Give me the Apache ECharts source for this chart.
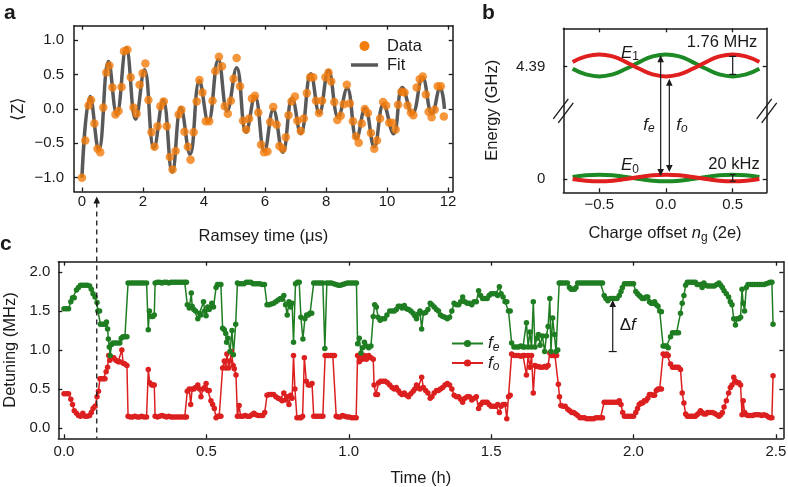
<!DOCTYPE html>
<html><head><meta charset="utf-8">
<script src="https://cdn.jsdelivr.net/npm/echarts@6/dist/echarts.min.js"></script>
<style>html,body{margin:0;padding:0;background:#fff}#c{width:788px;height:487px}</style>
</head><body><div id="c"></div>
<script>
// ---------- Panel a: Ramsey data (time in us, <Z>) ----------
const ramseyData = [
[0.00,-1.00],[0.11,-0.46],[0.22,0.05],[0.30,0.13],[0.41,-0.21],[0.51,-0.58],[0.60,-0.63],[0.70,0.02],[0.80,0.53],[0.90,0.63],
[1.00,0.31],[1.10,-0.08],[1.20,-0.03],[1.30,0.32],[1.38,0.84],[1.49,0.86],[1.60,0.46],[1.69,0.02],[1.79,-0.07],[1.89,0.35],
[1.99,0.52],[2.08,0.66],[2.18,0.13],[2.28,-0.34],[2.38,-0.55],[2.48,-0.25],[2.57,0.04],[2.68,0.11],[2.78,-0.25],[2.88,-0.70],
[2.97,-0.88],[3.07,-0.61],[3.17,-0.08],[3.26,-0.01],[3.36,-0.33],[3.47,-0.55],[3.56,-0.74],[3.66,-0.34],[3.76,0.11],[3.85,0.42],
[3.95,0.24],[4.06,-0.18],[4.17,-0.18],[4.28,0.12],[4.37,0.55],[4.49,0.76],[4.59,0.62],[4.68,0.04],[4.78,-0.07],[4.88,0.12],
[4.97,0.44],[5.07,0.74],[5.18,0.33],[5.28,-0.17],[5.38,-0.30],[5.48,-0.14],[5.57,0.15],[5.67,0.19],[5.78,-0.05],[5.87,-0.52],
[5.97,-0.63],[6.08,-0.62],[6.17,-0.19],[6.27,0.03],[6.38,-0.23],[6.47,-0.54],[6.58,-0.58],[6.68,-0.41],[6.77,-0.09],[6.87,0.11],
[6.98,0.18],[7.06,-0.17],[7.17,-0.32],[7.27,-0.14],[7.37,0.23],[7.48,0.46],[7.58,0.46],[7.67,0.12],[7.77,-0.06],[7.87,0.12],
[7.98,0.46],[8.08,0.53],[8.17,0.40],[8.27,0.10],[8.37,-0.16],[8.48,-0.10],[8.58,0.07],[8.68,0.35],[8.78,0.08],[8.88,-0.18],
[8.98,-0.40],[9.07,-0.49],[9.17,-0.21],[9.27,0.00],[9.37,-0.06],[9.47,-0.35],[9.58,-0.58],[9.67,-0.46],[9.77,-0.14],[9.87,0.10],
[9.97,0.05],[10.07,-0.20],[10.17,-0.20],[10.28,-0.30],[10.36,0.06],[10.47,0.25],[10.57,0.24],[10.67,0.05],[10.78,-0.05],[10.86,-0.09],
[10.97,0.31],[11.07,0.43],[11.17,0.47],[11.27,0.21],[11.36,-0.04],[11.46,-0.12],[11.56,-0.01],[11.66,0.33],[11.76,0.33],[11.86,-0.11]
];
// Fit curve, read at its turning points
const fitPoints = [
[0,-1.0],[0.27,0.18],[0.55,-0.60],[0.87,0.69],[1.14,-0.08],[1.45,0.89],[1.76,-0.15],[2.05,0.57],[2.36,-0.57],[2.66,0.13],
[2.96,-0.92],[3.24,0.02],[3.54,-0.66],[3.85,0.41],[4.14,-0.19],[4.47,0.72],[4.76,-0.03],[5.07,0.60],[5.38,-0.34],[5.67,0.18],
[5.98,-0.61],[6.27,-0.01],[6.58,-0.63],[6.89,0.16],[7.17,-0.36],[7.50,0.51],[7.78,-0.06],[8.08,0.56],[8.40,-0.12],[8.69,0.30],
[9.00,-0.43],[9.28,0.01],[9.58,-0.55],[9.88,0.07],[10.21,-0.36],[10.50,0.31],[10.83,-0.07],[11.16,0.46],[11.47,-0.07],[11.74,0.31],[11.88,0.0]
];
const aXTicks = [0,2,4,6,8,10,12];
const aXTickLabels = ['0','2','4','6','8','10','12'];
const aYTicks = [-1,-0.5,0,0.5,1];
const aYTickLabels = ['\u22121.0','\u22120.5','0.0','0.5','1.0'];
const aLegendNames = ['Data','Fit'];

// ---------- Panel b: energy bands vs charge offset ----------
const ngValues   = [-0.7,-0.6,-0.5,-0.4,-0.3,-0.2,-0.1,0.0,0.1,0.2,0.3,0.4,0.5,0.6,0.7];
const e1Odd      = [4.57,4.79,4.87,4.79,4.57,4.31,4.09,4.01,4.09,4.31,4.57,4.79,4.87,4.79,4.57];
const e1Even     = [4.31,4.09,4.01,4.09,4.31,4.57,4.79,4.87,4.79,4.57,4.31,4.09,4.01,4.09,4.31];
const e0Odd      = [0.00,-0.07,-0.09,-0.07,0.00,0.08,0.15,0.17,0.15,0.08,0.00,-0.07,-0.09,-0.07,0.00];
const e0Even     = [0.08,0.15,0.17,0.15,0.08,0.00,-0.07,-0.09,-0.07,0.00,0.08,0.15,0.17,0.15,0.08];
const bXTicks = [-0.5,0,0.5];
const bXTickLabels = ['\u22120.5','0.0','0.5'];
const bYTicks = [0,4.39];
const bYTickLabels = ['0','4.39'];

// ---------- Panel c: detuning vs time (h, MHz) ----------
const feData = [
[0.000,1.53],[0.008,1.53],[0.016,1.53],[0.024,1.62],[0.030,1.67],[0.036,1.67],[0.044,1.77],[0.051,1.80],[0.058,1.83],[0.066,1.83],
[0.074,1.83],[0.082,1.83],[0.090,1.82],[0.096,1.78],[0.102,1.72],[0.109,1.68],[0.116,1.61],[0.119,1.50],[0.125,1.50],[0.128,1.33],
[0.134,1.33],[0.140,1.33],[0.146,1.33],[0.149,1.36],[0.153,1.27],[0.156,1.14],[0.159,1.04],[0.162,0.93],[0.167,1.07],[0.172,1.09],
[0.180,1.09],[0.188,1.09],[0.196,1.09],[0.201,1.15],[0.207,1.17],[0.214,1.17],[0.221,1.17],[0.225,1.86],[0.233,1.86],[0.241,1.86],
[0.249,1.86],[0.257,1.86],[0.265,1.86],[0.273,1.86],[0.281,1.86],[0.290,1.86],[0.296,1.26],[0.300,1.50],[0.306,1.43],[0.312,1.43],
[0.317,1.45],[0.320,1.86],[0.328,1.87],[0.336,1.87],[0.344,1.86],[0.352,1.87],[0.360,1.87],[0.368,1.86],[0.376,1.87],[0.384,1.87],
[0.392,1.87],[0.400,1.87],[0.408,1.87],[0.416,1.87],[0.424,1.87],[0.430,1.87],[0.433,1.58],[0.440,1.54],[0.447,1.73],[0.450,1.56],
[0.456,1.52],[0.462,1.50],[0.470,1.40],[0.476,1.47],[0.481,1.45],[0.490,1.62],[0.494,1.50],[0.499,1.44],[0.505,1.55],[0.510,1.52],
[0.519,1.60],[0.525,1.55],[0.534,1.80],[0.539,1.84],[0.545,1.84],[0.551,1.84],[0.557,1.28],[0.563,1.26],[0.568,1.21],[0.571,1.10],
[0.576,1.15],[0.583,0.98],[0.590,1.25],[0.595,0.94],[0.603,1.33],[0.609,1.86],[0.616,1.85],[0.624,1.85],[0.632,1.85],[0.640,1.87],
[0.648,1.87],[0.656,1.87],[0.664,1.85],[0.672,1.85],[0.680,1.85],[0.688,1.85],[0.696,1.84],[0.704,1.84],[0.713,1.58],[0.720,1.58],
[0.728,1.59],[0.736,1.60],[0.744,1.62],[0.752,1.64],[0.760,1.66],[0.766,1.65],[0.772,1.70],[0.778,1.58],[0.784,1.45],[0.790,1.62],
[0.796,1.55],[0.801,1.60],[0.806,1.10],[0.813,1.85],[0.820,1.87],[0.826,1.87],[0.832,1.42],[0.839,1.14],[0.846,1.40],[0.852,1.45],
[0.858,1.45],[0.864,1.47],[0.870,1.47],[0.877,1.86],[0.885,1.86],[0.893,1.86],[0.901,1.86],[0.909,1.86],[0.916,1.02],[0.923,1.86],
[0.931,1.86],[0.939,1.86],[0.947,1.85],[0.955,1.84],[0.963,1.83],[0.971,1.83],[0.979,1.84],[0.987,1.85],[0.995,1.86],[1.003,1.86],
[1.011,1.86],[1.019,1.86],[1.027,1.86],[1.031,1.08],[1.037,1.15],[1.043,0.96],[1.049,1.03],[1.055,1.10],[1.062,1.05],[1.070,1.03],
[1.078,1.05],[1.086,1.43],[1.091,1.58],[1.097,1.55],[1.103,1.42],[1.110,1.38],[1.118,1.40],[1.126,1.40],[1.134,1.45],[1.144,1.50],
[1.152,1.50],[1.160,1.50],[1.167,1.52],[1.174,1.56],[1.180,1.56],[1.187,1.54],[1.195,1.57],[1.203,1.53],[1.210,1.52],[1.218,1.50],
[1.226,1.47],[1.232,1.44],[1.238,1.40],[1.244,1.46],[1.250,1.50],[1.256,1.27],[1.262,1.47],[1.270,1.48],[1.278,1.52],[1.286,1.60],
[1.292,1.58],[1.300,1.55],[1.308,1.52],[1.315,1.50],[1.322,1.45],[1.330,1.43],[1.338,1.42],[1.346,1.40],[1.354,1.42],[1.362,1.50],
[1.370,1.60],[1.378,1.58],[1.386,1.58],[1.393,1.62],[1.400,1.68],[1.408,1.62],[1.416,1.60],[1.424,1.60],[1.432,1.58],[1.440,1.62],
[1.448,1.62],[1.456,1.76],[1.463,1.70],[1.470,1.66],[1.478,1.66],[1.486,1.66],[1.493,1.70],[1.500,1.72],[1.508,1.72],[1.516,1.72],
[1.523,1.70],[1.529,1.81],[1.535,1.72],[1.542,1.68],[1.549,1.62],[1.555,1.62],[1.561,1.50],[1.567,1.50],[1.572,1.09],[1.580,1.04],
[1.588,1.04],[1.596,1.04],[1.604,1.05],[1.612,1.04],[1.618,1.04],[1.624,1.35],[1.630,1.04],[1.636,1.23],[1.642,1.04],[1.648,1.62],
[1.654,1.04],[1.660,1.15],[1.666,1.20],[1.672,1.06],[1.680,1.18],[1.688,0.98],[1.694,1.18],[1.700,1.30],[1.706,1.66],[1.710,0.98],
[1.716,1.41],[1.722,1.20],[1.728,0.98],[1.734,1.00],[1.739,1.86],[1.745,1.86],[1.752,1.86],[1.760,1.86],[1.768,1.86],[1.775,1.80],
[1.781,1.78],[1.787,1.78],[1.793,1.78],[1.798,1.80],[1.804,1.86],[1.812,1.86],[1.820,1.86],[1.828,1.86],[1.836,1.86],[1.844,1.86],
[1.852,1.86],[1.860,1.86],[1.868,1.86],[1.876,1.86],[1.884,1.86],[1.891,1.86],[1.897,1.70],[1.903,1.66],[1.910,1.63],[1.918,1.66],
[1.926,1.66],[1.934,1.66],[1.942,1.66],[1.950,1.70],[1.956,1.75],[1.961,1.80],[1.968,1.85],[1.976,1.85],[1.984,1.85],[1.992,1.85],
[2.000,1.85],[2.008,1.75],[2.014,1.72],[2.020,1.70],[2.026,1.68],[2.031,1.66],[2.038,1.66],[2.044,1.68],[2.050,1.68],[2.056,1.62],
[2.062,1.60],[2.068,1.60],[2.074,1.62],[2.080,1.58],[2.086,1.56],[2.092,1.50],[2.098,1.49],[2.104,1.05],[2.110,1.05],[2.116,1.05],
[2.122,1.03],[2.130,1.17],[2.137,1.22],[2.144,1.22],[2.151,1.22],[2.158,1.22],[2.165,1.47],[2.171,1.60],[2.177,1.70],[2.183,1.83],
[2.189,1.87],[2.196,1.87],[2.203,1.87],[2.210,1.87],[2.217,1.87],[2.223,1.84],[2.229,1.84],[2.235,1.84],[2.241,1.80],[2.247,1.86],
[2.254,1.83],[2.260,1.82],[2.268,1.82],[2.276,1.82],[2.284,1.82],[2.292,1.84],[2.300,1.86],[2.306,1.83],[2.312,1.80],[2.318,1.76],
[2.326,1.72],[2.334,1.68],[2.340,1.62],[2.346,1.58],[2.352,1.40],[2.358,1.32],[2.364,1.40],[2.370,1.40],[2.376,1.42],[2.381,1.78],
[2.385,1.60],[2.390,1.50],[2.396,1.80],[2.402,1.84],[2.410,1.84],[2.418,1.84],[2.426,1.84],[2.434,1.84],[2.442,1.84],[2.450,1.84],
[2.458,1.84],[2.466,1.85],[2.474,1.86],[2.480,1.87],[2.486,1.87],[2.490,1.33]
];
const foData = [
[0.000,0.44],[0.008,0.44],[0.016,0.44],[0.024,0.37],[0.030,0.30],[0.036,0.22],[0.044,0.19],[0.051,0.16],[0.058,0.15],[0.066,0.19],
[0.074,0.15],[0.082,0.15],[0.090,0.16],[0.096,0.20],[0.102,0.25],[0.109,0.28],[0.116,0.40],[0.121,0.47],[0.126,0.63],[0.132,0.63],
[0.138,0.63],[0.144,0.63],[0.148,0.72],[0.153,0.78],[0.157,0.93],[0.161,0.87],[0.168,0.90],[0.175,0.90],[0.182,0.87],[0.190,0.85],
[0.196,0.85],[0.203,1.00],[0.208,0.83],[0.214,0.82],[0.221,0.80],[0.225,0.15],[0.233,0.14],[0.241,0.14],[0.249,0.15],[0.257,0.14],
[0.265,0.14],[0.273,0.15],[0.281,0.14],[0.290,0.14],[0.296,0.75],[0.301,0.58],[0.308,0.55],[0.313,0.55],[0.317,0.55],[0.320,0.15],
[0.328,0.14],[0.336,0.15],[0.344,0.16],[0.352,0.15],[0.360,0.14],[0.368,0.15],[0.376,0.14],[0.384,0.14],[0.392,0.14],[0.400,0.14],
[0.408,0.14],[0.416,0.14],[0.424,0.14],[0.430,0.14],[0.433,0.47],[0.440,0.50],[0.445,0.30],[0.450,0.50],[0.456,0.50],[0.462,0.52],
[0.470,0.55],[0.476,0.50],[0.481,0.40],[0.488,0.50],[0.494,0.52],[0.499,0.57],[0.505,0.48],[0.510,0.48],[0.516,0.35],[0.522,0.30],
[0.528,0.25],[0.534,0.13],[0.540,0.15],[0.545,0.15],[0.551,0.15],[0.557,0.77],[0.563,0.86],[0.568,0.77],[0.572,0.95],[0.578,0.77],
[0.583,0.86],[0.588,0.98],[0.594,0.80],[0.598,0.76],[0.604,0.68],[0.609,0.15],[0.615,0.29],[0.620,0.15],[0.628,0.15],[0.636,0.16],
[0.644,0.15],[0.652,0.15],[0.660,0.17],[0.667,0.19],[0.674,0.17],[0.682,0.16],[0.690,0.16],[0.698,0.16],[0.705,0.20],[0.713,0.42],
[0.720,0.43],[0.728,0.43],[0.736,0.43],[0.744,0.40],[0.752,0.38],[0.760,0.37],[0.766,0.35],[0.772,0.45],[0.778,0.36],[0.784,0.40],
[0.790,0.30],[0.796,0.42],[0.801,0.38],[0.806,0.93],[0.811,0.50],[0.818,0.13],[0.826,0.13],[0.832,0.13],[0.838,0.15],[0.844,0.90],
[0.851,0.60],[0.858,0.55],[0.864,0.55],[0.871,0.57],[0.877,0.15],[0.885,0.15],[0.893,0.15],[0.901,0.15],[0.909,0.15],[0.917,0.93],
[0.923,0.93],[0.930,0.93],[0.937,0.93],[0.944,0.93],[0.950,0.93],[0.956,0.15],[0.962,0.14],[0.970,0.14],[0.978,0.16],[0.986,0.15],
[0.994,0.14],[1.002,0.14],[1.010,0.13],[1.018,0.13],[1.026,0.13],[1.031,0.93],[1.037,0.85],[1.043,0.90],[1.049,0.88],[1.055,0.93],
[1.062,0.88],[1.070,0.93],[1.078,0.90],[1.086,0.88],[1.089,0.55],[1.095,0.43],[1.101,0.43],[1.105,0.58],[1.112,0.60],[1.120,0.60],
[1.128,0.60],[1.136,0.58],[1.144,0.55],[1.152,0.52],[1.160,0.50],[1.167,0.52],[1.174,0.48],[1.180,0.45],[1.187,0.43],[1.195,0.45],
[1.203,0.42],[1.210,0.40],[1.218,0.44],[1.226,0.47],[1.232,0.50],[1.238,0.55],[1.244,0.52],[1.250,0.50],[1.256,0.65],[1.262,0.52],
[1.270,0.48],[1.278,0.45],[1.286,0.38],[1.292,0.40],[1.300,0.45],[1.308,0.48],[1.315,0.48],[1.322,0.50],[1.330,0.52],[1.338,0.55],
[1.346,0.57],[1.354,0.55],[1.362,0.50],[1.370,0.42],[1.378,0.40],[1.386,0.40],[1.393,0.37],[1.400,0.33],[1.408,0.38],[1.416,0.40],
[1.424,0.40],[1.432,0.36],[1.440,0.38],[1.448,0.40],[1.456,0.25],[1.463,0.30],[1.470,0.33],[1.478,0.33],[1.486,0.33],[1.493,0.30],
[1.500,0.28],[1.508,0.28],[1.516,0.28],[1.523,0.30],[1.529,0.20],[1.535,0.28],[1.542,0.30],[1.549,0.30],[1.555,0.12],[1.561,0.40],
[1.567,0.42],[1.572,0.95],[1.580,0.93],[1.588,0.93],[1.596,0.93],[1.604,0.92],[1.612,0.93],[1.618,0.93],[1.624,0.68],[1.630,0.93],
[1.636,0.78],[1.642,0.93],[1.648,0.45],[1.654,0.80],[1.660,0.79],[1.666,0.79],[1.672,0.78],[1.680,0.78],[1.688,0.79],[1.694,0.78],
[1.700,0.80],[1.706,0.96],[1.712,0.93],[1.718,0.93],[1.724,0.93],[1.730,0.93],[1.736,0.56],[1.740,0.40],[1.745,0.29],[1.752,0.28],
[1.760,0.28],[1.769,0.24],[1.776,0.22],[1.783,0.20],[1.790,0.20],[1.797,0.18],[1.804,0.16],[1.812,0.13],[1.820,0.13],[1.828,0.13],
[1.836,0.12],[1.844,0.12],[1.852,0.12],[1.860,0.12],[1.868,0.13],[1.876,0.13],[1.884,0.13],[1.891,0.13],[1.897,0.33],[1.905,0.33],
[1.913,0.33],[1.921,0.33],[1.929,0.33],[1.937,0.33],[1.944,0.33],[1.950,0.35],[1.956,0.30],[1.962,0.20],[1.968,0.15],[1.976,0.15],
[1.984,0.15],[1.992,0.15],[2.000,0.15],[2.008,0.20],[2.014,0.25],[2.020,0.30],[2.026,0.32],[2.032,0.32],[2.038,0.35],[2.044,0.35],
[2.050,0.38],[2.056,0.43],[2.062,0.43],[2.068,0.42],[2.074,0.42],[2.080,0.48],[2.086,0.50],[2.092,0.50],[2.098,0.50],[2.104,0.95],
[2.110,0.93],[2.116,0.95],[2.122,0.93],[2.130,0.82],[2.137,0.78],[2.144,0.78],[2.151,0.78],[2.158,0.78],[2.165,0.75],[2.171,0.45],
[2.177,0.32],[2.183,0.18],[2.189,0.15],[2.196,0.15],[2.203,0.15],[2.210,0.15],[2.217,0.15],[2.223,0.17],[2.229,0.19],[2.235,0.22],
[2.241,0.20],[2.247,0.18],[2.254,0.18],[2.260,0.20],[2.268,0.20],[2.276,0.20],[2.284,0.19],[2.292,0.17],[2.300,0.15],[2.306,0.17],
[2.312,0.20],[2.318,0.27],[2.326,0.35],[2.334,0.45],[2.340,0.52],[2.346,0.55],[2.352,0.65],[2.358,0.60],[2.364,0.58],[2.370,0.58],
[2.376,0.55],[2.381,0.17],[2.385,0.35],[2.390,0.20],[2.396,0.17],[2.402,0.16],[2.410,0.16],[2.418,0.16],[2.426,0.17],[2.434,0.17],
[2.442,0.17],[2.450,0.16],[2.458,0.17],[2.466,0.16],[2.474,0.14],[2.480,0.13],[2.486,0.13],[2.490,0.67]
];
const cXTicks = [0,0.5,1,1.5,2,2.5];
const cXTickLabels = ['0.0','0.5','1.0','1.5','2.0','2.5'];
const cYTicks = [0,0.5,1,1.5,2];
const cYTickLabels = ['0.0','0.5','1.0','1.5','2.0'];
const markerTime = 0.115;   // dashed marker, hours

// ---------- styling ----------
const FONT = '"Liberation Sans", Arial, Helvetica, sans-serif';
const INK = '#1a1a1a';
const ORANGE = '#f27c0c', GRAY = '#595959';
const RED = '#dc1f1f', GREEN = '#1f7d22';
const BRED = '#e0201e', BGREEN = '#1d8a26';
const NAME_FS = 16.5;
const subRich = {
  t:{fontSize:NAME_FS, fontFamily:FONT, color:INK},
  i:{fontSize:NAME_FS, fontStyle:'italic', fontFamily:FONT, color:INK},
  s:{fontSize:12, fontFamily:FONT, color:INK, padding:[8,0,0,0]}
};

function ax(o){
  const ticks = o.ticks, labels = o.labels;
  return {
    type:'value', gridIndex:o.grid, position:o.pos, min:o.min, max:o.max,
    axisLine:{show:true, onZero:false, lineStyle:{color:INK, width:1.5}},
    axisTick:{show:true, inside:true, length:4, customValues:ticks, lineStyle:{color:INK, width:1.3}},
    axisLabel:{show:!!labels, customValues:ticks, margin:o.margin||6, fontSize:15, color:INK, fontFamily:FONT,
      formatter: labels ? function(v){ const k = ticks.findIndex(t=>Math.abs(t-v)<1e-9); return k>=0 ? labels[k] : ''; } : undefined},
    splitLine:{show:false},
    name:o.name||'', nameLocation:'middle', nameGap:o.nameGap||30,
    nameTextStyle:{fontSize:NAME_FS, color:INK, fontFamily:FONT, rich:subRich}
  };
}

const option = {
  animation:false,
  textStyle:{fontFamily:FONT},
  grid:[
    {left:74, top:25.7, width:378.7, height:165.8, containLabel:false, outerBoundsMode:'none'},
    {left:563.3, top:28.3, width:203.4, height:164, containLabel:false, outerBoundsMode:'none'},
    {left:58.3, top:261.7, width:725, height:176.6, containLabel:false, outerBoundsMode:'none'}
  ],
  xAxis:[
    ax({grid:0,pos:'bottom',min:-0.26,max:12.15,ticks:aXTicks,labels:aXTickLabels,margin:3,name:'Ramsey time (\u03bcs)',nameGap:36}),
    ax({grid:1,pos:'bottom',min:-0.77,max:0.755,ticks:bXTicks,labels:bXTickLabels,margin:5,name:'{t|Charge offset }{i|n}{s|g}{t| (2e)}',nameGap:31}),
    ax({grid:2,pos:'bottom',min:-0.02,max:2.526,ticks:cXTicks,labels:cXTickLabels,margin:6,name:'Time (h)',nameGap:32}),
    ax({grid:0,pos:'top',min:-0.26,max:12.15,ticks:aXTicks}),
    ax({grid:1,pos:'top',min:-0.77,max:0.755,ticks:bXTicks}),
    ax({grid:2,pos:'top',min:-0.02,max:2.526,ticks:cXTicks})
  ],
  yAxis:[
    ax({grid:0,pos:'left',min:-1.2,max:1.21,ticks:aYTicks,labels:aYTickLabels,margin:10,name:'\u27e8Z\u27e9',nameGap:47}),
    ax({grid:1,pos:'left',min:-0.52,max:5.89,ticks:bYTicks,labels:bYTickLabels,margin:18,name:'Energy (GHz)',nameGap:62}),
    ax({grid:2,pos:'left',min:-0.132,max:2.132,ticks:cYTicks,labels:cYTickLabels,margin:8,name:'Detuning (MHz)',nameGap:39}),
    ax({grid:0,pos:'right',min:-1.2,max:1.21,ticks:aYTicks}),
    ax({grid:1,pos:'right',min:-0.52,max:5.89,ticks:bYTicks}),
    ax({grid:2,pos:'right',min:-0.132,max:2.132,ticks:cYTicks})
  ],
  legend:[
    {left:446, top:330, orient:'vertical', itemWidth:31, itemHeight:9, itemGap:1, selectedMode:false,
     data:['fe','fo'],
     formatter:function(n){ return n==='fe' ? '{i|f}{s|e}' : '{i|f}{s|o}'; },
     textStyle:{color:INK, rich:{
       i:{fontSize:17, fontStyle:'italic', fontFamily:FONT, color:INK},
       s:{fontSize:12, fontStyle:'italic', fontFamily:FONT, color:INK, padding:[8,0,0,0]}}}}
  ],
  series:[
    {name:'Fit', type:'line', xAxisIndex:0, yAxisIndex:0, data:fitPoints, smooth:0.45, showSymbol:false, symbol:'none',
     lineStyle:{color:GRAY, width:3.5}, itemStyle:{color:GRAY}, z:2},
    {name:'Data', type:'scatter', xAxisIndex:0, yAxisIndex:0, data:ramseyData, symbolSize:8.5, itemStyle:{color:ORANGE}, z:3},
    {type:'line', xAxisIndex:1, yAxisIndex:1, data:ngValues.map((x,i)=>[x,e1Even[i]]), smooth:0.5, symbol:'none', lineStyle:{color:BGREEN, width:4}},
    {type:'line', xAxisIndex:1, yAxisIndex:1, data:ngValues.map((x,i)=>[x,e1Odd[i]]), smooth:0.5, symbol:'none', lineStyle:{color:BRED, width:4}},
    {type:'line', xAxisIndex:1, yAxisIndex:1, data:ngValues.map((x,i)=>[x,e0Even[i]]), smooth:0.5, symbol:'none', lineStyle:{color:BGREEN, width:4}},
    {type:'line', xAxisIndex:1, yAxisIndex:1, data:ngValues.map((x,i)=>[x,e0Odd[i]]), smooth:0.5, symbol:'none', lineStyle:{color:BRED, width:4}},
    {name:'fo', type:'line', xAxisIndex:2, yAxisIndex:2, data:foData, symbol:'circle', symbolSize:5.5, showSymbol:true,
     lineStyle:{color:RED, width:1.5}, itemStyle:{color:RED}},
    {name:'fe', type:'line', xAxisIndex:2, yAxisIndex:2, data:feData, symbol:'circle', symbolSize:5.5, showSymbol:true,
     lineStyle:{color:GREEN, width:1.5}, itemStyle:{color:GREEN}}
  ]
};

const chart = echarts.init(document.getElementById('c'), null, {renderer:'canvas'});
chart.setOption(option);

// ---------- annotations placed through the axes' own scales ----------
function P(i, x, y){ return chart.convertToPixel({xAxisIndex:i, yAxisIndex:i}, [x, y]); }
const g = [];
function seg(x1,y1,x2,y2,extra){ g.push({type:'line', silent:true, z:100, shape:{x1:x1,y1:y1,x2:x2,y2:y2}, style:Object.assign({stroke:INK, lineWidth:1.2}, extra||{})}); }
function head(x,y,dir){ const h=7, w=3.3; g.push({type:'polygon', silent:true, z:100, shape:{points:[[x,y],[x-w,y+dir*h],[x+w,y+dir*h]]}, style:{fill:INK}}); }
function txt(x,y,t,st){ g.push({type:'text', silent:true, z:100, x:x, y:y, style:Object.assign({text:t, fill:INK, fontFamily:FONT, fontSize:16.5, align:'center', verticalAlign:'middle'}, st||{})}); }

// panel letters
txt(4, 13.5, 'a', {fontSize:21, fontWeight:'bold', align:'left'});
txt(482, 13.5, 'b', {fontSize:21, fontWeight:'bold', align:'left'});
txt(0, 244, 'c', {fontSize:21, fontWeight:'bold', align:'left'});

// legend of panel a (symbol + line keys, real text)
{
  const lx = 351, ly1 = 46, ly2 = 65;
  g.push({type:'circle', silent:true, z:100, shape:{cx:lx+13.5, cy:ly1, r:5}, style:{fill:ORANGE}});
  seg(lx, ly2, lx+27, ly2, {stroke:GRAY, lineWidth:3.5});
  txt(lx+36, ly1, aLegendNames[0], {align:'left'});
  txt(lx+36, ly2, aLegendNames[1], {align:'left'});
}

// dashed marker from panel c up to panel a's time axis
{
  const x = P(2, markerTime, 0)[0];
  const yBot = P(2, markerTime, -0.132)[1];
  const yTip = P(0, 0, -1.2)[1] + 5;
  seg(x, yTip+6, x, yBot, {lineDash:[5,4], lineWidth:1.3});
  head(x, yTip, 1);
}

// Delta f arrow in panel c
{
  const x = P(2, 1.927, 0)[0];
  const yCap = P(2, 1.927, 0.98)[1];
  const yTip = P(2, 1.927, 1.64)[1];
  seg(x, yCap, x, yTip+6);
  seg(x-4, yCap, x+4, yCap);
  head(x, yTip, 1);
  txt(x+7, (yCap+yTip)/2 - 1, '{d|\u0394}{f|f}', {align:'left', rich:{d:{fontSize:17, fontFamily:FONT, fill:INK}, f:{fontSize:17, fontStyle:'italic', fontFamily:FONT, fill:INK}}});
}

// Panel b arrows f_e, f_o and labels
{
  const xe = P(1, -0.04, 0)[0];
  const ye1 = P(1, 0, 0.12)[1], ye2 = P(1, 0, 4.84)[1];
  seg(xe, ye1-6, xe, ye2+6); head(xe, ye2, 1); head(xe, ye1, -1);
  const xo = P(1, 0.025, 0)[0];
  const yo1 = P(1, 0, 0.27)[1], yo2 = P(1, 0, 3.92)[1];
  seg(xo, yo1-6, xo, yo2+6); head(xo, yo2, 1); head(xo, yo1, -1);
  const rich = {i:{fontSize:17, fontStyle:'italic', fontFamily:FONT, fill:INK}, s:{fontSize:12, fontStyle:'italic', fontFamily:FONT, fill:INK, padding:[7,0,0,0]}};
  const rich2 = {i:{fontSize:17, fontStyle:'italic', fontFamily:FONT, fill:INK}, s:{fontSize:12, fontFamily:FONT, fill:INK, padding:[7,0,0,0]}};
  let p = P(1, -0.127, 2.11); txt(p[0], p[1], '{i|f}{s|e}', {rich:rich});
  p = P(1, 0.12, 2.11); txt(p[0], p[1], '{i|f}{s|o}', {rich:rich});
  p = P(1, -0.27, 4.93); txt(p[0], p[1], '{i|E}{s|1}', {rich:rich2});
  p = P(1, -0.27, 0.52); txt(p[0], p[1], '{i|E}{s|0}', {rich:rich2});
  p = P(1, 0.42, 5.32); txt(p[0], p[1], '1.76 MHz');
  p = P(1, 0.51, 0.55); txt(p[0], p[1], '20 kHz');
  // brackets at n_g = 0.5
  const xb = P(1, 0.5, 0)[0];
  const yA = P(1, 0, e1Odd[12])[1] + 2, yB = P(1, 0, e1Even[12])[1] - 2;
  seg(xb, yA, xb, yB); seg(xb-3.5, yA, xb+3.5, yA); seg(xb-3.5, yB, xb+3.5, yB);
  const yC = P(1, 0, e0Even[12])[1], yD = P(1, 0, e0Odd[12])[1];
  seg(xb, yC, xb, yD); seg(xb-3, yC, xb+3, yC); seg(xb-3, yD, xb+3, yD);
  // axis break marks
  const yc = P(1, 0, 2.7)[1];
  const xl = P(1, -0.77, 0)[0], xr = P(1, 0.755, 0)[0];
  [xl, xr].forEach(function(x0){
    seg(x0-10, yc+9, x0+5, yc-11, {lineWidth:1.3});
    seg(x0-5, yc+13, x0+10, yc-7, {lineWidth:1.3});
  });
}
chart.setOption({graphic:g});
</script></body></html>
